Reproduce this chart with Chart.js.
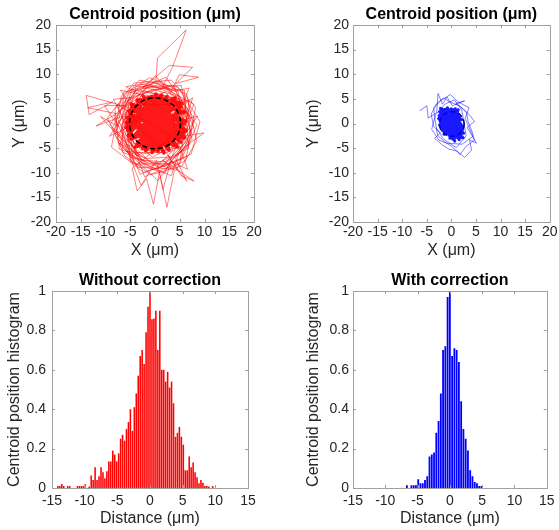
<!DOCTYPE html>
<html lang="en">
<head>
<meta charset="UTF-8">
<title>Centroid position</title>
<script src="https://cdn.jsdelivr.net/npm/chart.js"></script>
<style>
    body { margin: 0; background: #ffffff; }
    .board { position: relative; width: 559px; height: 530px; overflow: hidden; }
    .board canvas { position: absolute; }
</style>
</head>
<body>
<div class="board">
    <canvas id="xyRaw" width="280" height="260" style="left:0;top:0"></canvas>
    <canvas id="xyCorr" width="279" height="260" style="left:280px;top:0"></canvas>
    <canvas id="histRaw" width="280" height="270" style="left:0;top:260px"></canvas>
    <canvas id="histCorr" width="279" height="270" style="left:280px;top:260px"></canvas>
</div>
<script>
// ---- data ----
const xyTicks = [-20, -15, -10, -5, 0, 5, 10, 15, 20];
const distTicks = [-15, -10, -5, 0, 5, 10, 15];
const histTicks = [0, 0.2, 0.4, 0.6, 0.8, 1];

// dense core of the uncorrected trajectory (um)
const rawCore = [[-5.0,1.8],[5.7,-0.9],[-3.7,-4.3],[3.5,4.9],[-0.6,-5.9],[1.4,5.8],[-5.5,-1.4],[6.0,2.3],[-2.9,4.7],[4.3,-4.4],[-5.8,0.2],[5.3,3.5],[-1.9,-5.5],[0.2,6.0],[2.8,-5.4],[-4.6,3.4],[6.2,0.5],[-4.9,-3.1],[2.3,3.8],[-1.1,-3.4],[3.8,1.3],[-3.5,-2.2],[4.8,-3.0],[-1.4,5.3],[1.0,-4.7],[-4.1,1.1],[5.5,-1.9],[-2.5,-5.0],[3.1,2.8],[-5.3,2.5],[4.7,4.3],[-0.4,-1.3],[1.8,-6.0],[-3.6,4.8],[5.9,-0.1],[-5.9,-0.8],[0.7,3.1],[3.5,-3.5],[-2.2,1.8],[4.1,5.2],[-3.1,-3.8],[1.2,0.5],[-4.8,4.0],[6.3,-1.4],[-0.2,-5.3],[2.4,5.5],[-4.3,-2.6],[5.0,1.0],[-1.7,3.5],[0.4,-2.9],[4.6,-4.8],[-5.6,1.2],[2.0,2.0],[-2.6,-0.7],[5.4,4.1],[-0.8,5.5],[2.9,-1.7],[-4.0,-4.8],[3.6,0.0],[-1.2,-4.3],[0.1,4.4],[-5.4,-2.4],[6.0,-2.9],[-2.4,5.6],[1.6,-2.4],[-4.7,0.0],[2.6,4.4],[0.6,-5.6],[-3.2,2.9],[5.2,-3.8],[-0.7,1.0]];

// wandering part of the uncorrected trajectory (um)
const rawPath = [[0.2,8.9],[0.5,13.3],[6.3,19.0],[3.6,11.6],[1.2,6.8],[-2.5,7.2],[2.9,11.8],[7.6,11.4],[4.2,8.1],[8.8,9.4],[4.9,9.9],[3.1,6.2],[-1.5,8.1],[-5.9,7.5],[-3.0,5.9],[-7.0,6.8],[-4.5,3.0],[-13.9,5.7],[-13.3,1.8],[-8.5,4.4],[-13.6,3.2],[-7.8,2.0],[-11.9,-0.5],[-6.5,1.5],[-9.2,-2.6],[-5.5,-0.8],[-8.4,4.9],[-4.8,5.3],[-6.9,-1.5],[-3.2,-6.4],[-7.5,-3.8],[-2.0,-8.5],[-5.8,-5.6],[-1.0,-6.2],[-4.6,-9.1],[-3.6,-13.7],[-1.7,-11.2],[-0.3,-16.4],[0.9,-9.8],[2.4,-17.0],[3.9,-9.6],[1.5,-7.4],[7.9,-11.7],[5.3,-10.6],[2.6,-6.5],[6.4,-11.7],[4.1,-7.0],[6.0,-4.8],[9.9,-1.9],[5.8,-2.6],[8.6,1.5],[6.3,0.9],[7.6,5.2],[5.6,3.8],[6.9,7.2],[4.0,6.6],[0.8,7.9],[-3.9,6.7],[-6.2,3.6],[-5.4,-3.1],[-2.7,-7.4],[1.9,-7.8],[5.2,-5.9],[7.1,-2.9],[6.7,2.8],[2.5,7.5],[-2.2,6.3],[-7.3,0.4],[-4.1,-5.6],[0.4,-8.7],[4.7,-4.4],[7.8,-0.8],[5.0,5.5],[-0.6,6.9],[-6.6,4.2],[-8.0,-2.4],[-3.4,-8.9],[2.9,-9.2],[6.2,-7.5],[8.2,3.3],[3.3,8.8],[-4.3,8.2],[-9.6,1.1],[-6.1,-6.6],[-0.8,-10.4],[5.5,-8.6],[8.4,-3.6],[6.4,6.0],[-1.1,9.3],[-6.8,5.6],[-8.8,-4.8],[-2.3,-9.9],[3.6,-8.1],[7.3,-6.2],[9.1,0.4],[4.6,7.4],[-3.2,8.8],[-8.1,2.9],[-7.2,-5.2],[-1.6,-7.1],[3.0,-6.8],[-5.1,2.1],[-4.3,-4.0],[0.9,-6.1],[5.4,-1.8],[4.8,4.2],[-0.3,6.0],[-5.7,0.3],[-2.9,-5.4],[3.4,-5.6],[6.1,1.7],[2.1,6.4],[-4.7,4.5],[-6.0,-2.3],[-0.5,-6.8],[5.3,-3.7],[5.7,3.1],[-1.9,5.8],[-6.3,1.9],[-3.7,-5.9],[2.6,-5.9],[6.6,-1.0],[3.9,5.2],[-3.4,5.0],[-5.8,-4.3],[0.0,-5.6],[5.9,0.0],[1.0,5.9],[-5.2,-1.4],[-1.4,-5.9],[4.4,-5.0],[6.3,4.4],[-2.6,6.8],[-6.9,-0.4],[-4.9,-6.9],[1.8,-8.3],[7.0,-4.3],[4.5,0.9],[-1.2,4.9],[-4.4,0.2],[0.7,-4.8],[4.2,-2.7],[3.2,3.9],[-10.2,3.6],[-7.4,-0.6],[-11.0,1.4],[-6.2,-3.9],[-2.8,-12.6],[0.3,-7.5],[1.6,-13.4],[3.2,-7.7],[6.6,-9.3],[4.4,-3.1],[-7.6,3.8],[-2.1,-10.8],[4.9,-8.0],[8.0,0.9],[2.2,9.4],[-5.3,6.1],[-8.6,-0.9],[-1.3,-8.9],[6.8,-5.0],[5.9,6.8],[-3.8,7.6],[-7.1,-4.4],[0.6,-11.6],[7.4,-1.9],[3.8,7.8],[-6.0,5.0],[-5.0,-7.8],[2.0,-10.1],[7.9,3.9],[-0.2,8.4],[-8.3,1.6],[-3.0,-10.3],[5.1,-7.2],[6.9,4.6],[-4.6,6.9],[-7.8,-1.5],[-0.9,-7.8],[4.3,-9.5],[8.5,-0.3],[1.4,8.6],[-6.4,6.3],[-6.6,-5.8],[1.1,-9.0],[6.1,-3.9],[4.7,6.5],[-2.8,8.0],[-9.1,-0.2],[-2.5,-8.0],[3.3,-10.6],[7.2,1.2],[0.1,9.7],[-5.5,4.4],[-4.4,-8.2],[2.7,-8.2],[7.5,-3.3],[5.3,7.7],[-1.8,7.4],[-7.7,-3.0],[-0.1,-9.4],[6.5,-6.6]];

// corrected trajectory (um)
const corrCore = [[-2.0,2.8],[1.8,-2.6],[-1.2,-1.5],[1.5,1.9],[-2.3,0.5],[2.2,-0.6],[0.0,3.0],[0.3,-3.2],[-1.6,2.2],[2.0,-1.8],[-2.1,-0.8],[1.0,2.4],[-0.5,-2.4],[2.4,-2.9],[-2.5,1.6],[1.3,0.2],[-0.8,3.2],[0.9,-2.8],[-1.9,-0.1],[2.1,0.8],[-1.0,1.0],[1.6,-3.3],[-2.4,2.4],[0.5,1.6],[-0.3,-3.0],[2.3,-1.2],[-1.5,-2.2],[0.8,3.0],[-2.6,1.0],[1.9,-2.2],[-0.2,0.6],[1.2,-1.0],[-1.3,2.9],[2.5,-2.0],[-1.8,-1.4],[0.4,2.6],[-0.9,-0.6],[1.7,1.2],[-2.2,3.1],[0.7,-3.6],[-1.1,1.8],[2.0,-0.2],[-0.4,-1.8],[1.4,2.8],[-2.4,-0.3],[1.1,-2.3],[-0.6,2.1],[0.2,-1.2]];
const corrPath = [[-6.4,2.6],[-5.0,3.6],[-4.7,1.1],[-3.0,2.2],[-2.7,6.1],[-1.8,3.9],[-0.9,5.4],[0.2,3.6],[2.7,4.6],[0.9,4.1],[2.4,3.0],[3.9,1.5],[4.7,0.4],[3.2,-0.8],[5.1,-4.0],[3.7,-3.3],[4.1,-5.4],[2.7,-6.9],[1.2,-5.6],[-0.5,-5.2],[-1.8,-4.4],[-3.4,-3.0],[-2.2,-1.9],[-3.6,-0.6],[-4.1,1.9],[-3.0,4.0],[-1.6,5.2],[-0.4,4.4],[1.6,3.6],[3.1,2.2],[3.4,0.4],[4.2,-1.6],[4.7,-3.4],[3.0,-4.6],[1.8,-6.3],[0.0,-4.6],[-1.3,-3.8],[-2.8,-2.4],[-3.3,0.7],[-3.6,3.2],[-2.2,4.6],[-0.2,5.9],[1.5,4.3],[3.6,3.2],[2.8,1.0],[4.4,-2.6],[2.2,-4.2],[-0.9,-4.0],[-2.5,-3.4],[-4.0,-1.2],[-3.2,1.8],[-1.2,4.0],[0.6,4.8],[2.1,2.8],[3.0,-2.5],[1.0,-4.9],[-1.6,-3.2],[-3.0,-1.0]];

// normalised histograms of the distance
const rawBinStart = -14.1, rawBinWidth = 0.3;
const rawHist = [0.01,0.01,0.02,0.01,0,0.01,0.01,0,0,0,0.01,0.01,0.01,0.01,0.02,0,0.007,0.064,0.04,0.105,0.04,0.06,0.105,0.08,0.05,0.085,0.135,0.135,0.19,0.17,0.135,0.176,0.25,0.27,0.24,0.30,0.335,0.40,0.29,0.41,0.48,0.57,0.67,0.70,0.63,0.79,0.92,1.0,0.856,0.86,0.90,0.70,0.90,0.60,0.60,0.54,0.59,0.51,0.54,0.43,0.26,0.28,0.31,0.26,0.22,0.09,0.09,0.16,0.105,0.13,0.08,0.055,0.024,0.04,0.027,0.01,0.01,0.007,0,0.01];
const corrBinStart = -6.65, corrBinWidth = 0.35;
const corrHist = [0.014,0,0.014,0.014,0.014,0.044,0.024,0.024,0.04,0.06,0.16,0.17,0.18,0.28,0.34,0.48,0.70,0.72,0.97,1.0,0.67,0.71,0.70,0.64,0.44,0.30,0.25,0.19,0.09,0.06,0.03,0.024,0.01,0.01];

// reference circles: centre and radius (um)
const rawCircle = { cx: 0.0, cy: 0.05, r: 5.15, under: false };
const corrCircle = { cx: 0.1, cy: -0.1, r: 2.5, under: true };

// ---- drawing ----
Chart.defaults.font.family = 'Arial, "Liberation Sans", Helvetica, sans-serif';
Chart.defaults.color = '#262626';
Chart.defaults.animation = false;

const toXY = pts => pts.map(([x, y]) => ({ x, y }));
const toBars = (start, w, hs) => hs.map((h, i) => ({ x: start + i * w, y: h }));

// matlab style box with inward ticks on all four sides
const boxFrame = {
    id: 'boxFrame',
    afterDraw(chart) {
        const { ctx, chartArea: a, scales: { x, y } } = chart;
        ctx.save();
        ctx.strokeStyle = '#a0a0a0';
        ctx.lineWidth = 1;
        ctx.beginPath();
        x.ticks.forEach(t => {
            const px = Math.round(x.getPixelForValue(t.value)) + 0.5;
            ctx.moveTo(px, a.top); ctx.lineTo(px, a.top + 3);
            ctx.moveTo(px, a.bottom); ctx.lineTo(px, a.bottom - 3);
        });
        y.ticks.forEach(t => {
            const py = Math.round(y.getPixelForValue(t.value)) + 0.5;
            ctx.moveTo(a.left, py); ctx.lineTo(a.left + 3, py);
            ctx.moveTo(a.right, py); ctx.lineTo(a.right - 3, py);
        });
        ctx.stroke();
        ctx.strokeRect(Math.round(a.left) + 0.5, Math.round(a.top) + 0.5,
                       Math.round(a.width), Math.round(a.height));
        ctx.restore();
    }
};

function drawCircle(chart, opts) {
    const { ctx, scales: { x, y } } = chart;
    const px = x.getPixelForValue(opts.cx);
    const py = y.getPixelForValue(opts.cy);
    const rr = x.getPixelForValue(opts.cx + opts.r) - px;
    ctx.save();
    ctx.setLineDash([5, 3]);
    ctx.lineWidth = 1.6;
    ctx.strokeStyle = '#000000';
    ctx.beginPath();
    ctx.arc(px, py, rr, 0, Math.PI * 2);
    ctx.stroke();
    ctx.restore();
}

const refCircle = {
    id: 'refCircle',
    beforeDatasetsDraw(chart, args, opts) {
        if (opts && opts.r && opts.under) drawCircle(chart, opts);
    },
    afterDatasetsDraw(chart, args, opts) {
        if (opts && opts.r && !opts.under) drawCircle(chart, opts);
    }
};

function axis(o) {
    return {
        type: 'linear',
        min: o.min,
        max: o.max,
        offset: false,
        afterBuildTicks: s => { s.ticks = o.ticks.map(v => ({ value: v })); },
        afterFit: s => {
            if (o.width) s.width = o.width;
            if (o.height) s.height = o.height;
        },
        grid: { display: false, drawTicks: false, offset: false },
        border: { display: false },
        ticks: {
            autoSkip: false, maxRotation: 0, padding: o.pad, color: '#262626', font: { size: 14 },
            callback: v => String(v)
        },
        title: { display: true, text: o.title, color: '#262626', font: { size: 16 }, padding: o.titlePad }
    };
}

function titleOpts(text, top, bottom) {
    return {
        display: true,
        fullSize: false,
        text: text,
        color: '#000000',
        font: { size: 16, weight: 'bold' },
        padding: { top: top, bottom: bottom }
    };
}

function xyChart(id, core, path, color, circle, frame) {
    const line = { showLine: true, pointRadius: 0, tension: 0, borderJoinStyle: 'round', borderCapStyle: 'round' };
    return new Chart(document.getElementById(id), {
        type: 'scatter',
        data: {
            datasets: [
                { ...line, data: toXY(path), borderColor: color(0.5), borderWidth: 1 },
                { ...line, data: toXY(core), borderColor: color(0.9), borderWidth: frame.coreWidth }
            ]
        },
        options: {
            responsive: false,
            events: [],
            layout: { padding: { left: 0, top: 0, bottom: 0, right: frame.right } },
            scales: {
                x: axis({ min: -20, max: 20, ticks: xyTicks, height: 38, pad: 1.5,
                          title: 'X (μm)', titlePad: { top: 0, bottom: 0 } }),
                y: axis({ min: -20, max: 20, ticks: xyTicks, width: frame.yWidth, pad: frame.yPad,
                          title: 'Y (μm)', titlePad: { top: frame.yTitle, bottom: 0 } })
            },
            plugins: {
                legend: { display: false },
                tooltip: { enabled: false },
                title: titleOpts('Centroid position (μm)', 5.4, 0.4),
                refCircle: circle
            }
        },
        plugins: [boxFrame, refCircle]
    });
}

function histChart(id, bars, color, text, frame) {
    return new Chart(document.getElementById(id), {
        type: 'bar',
        data: {
            datasets: [{
                data: bars,
                backgroundColor: color,
                borderWidth: 0,
                barPercentage: 0.8,
                categoryPercentage: 1.0
            }]
        },
        options: {
            responsive: false,
            events: [],
            layout: { padding: { left: 0, top: 0, bottom: 0, right: frame.right } },
            scales: {
                x: axis({ min: -15, max: 15, ticks: distTicks, height: 42, pad: 4.5,
                          title: 'Distance (μm)', titlePad: { top: 0, bottom: 2.1 } }),
                y: axis({ min: 0, max: 1, ticks: histTicks, width: frame.yWidth, pad: frame.yPad,
                          title: 'Centroid position histogram', titlePad: { top: frame.yTitle, bottom: 0 } })
            },
            plugins: {
                legend: { display: false },
                tooltip: { enabled: false },
                title: titleOpts(text, 11.4, 0.4)
            }
        },
        plugins: [boxFrame]
    });
}

xyChart('xyRaw', rawCore, rawPath, a => `rgba(255,0,0,${a})`, rawCircle,
        { right: 26, yWidth: 56, yPad: 5, yTitle: 10.4, coreWidth: 3.5 });
xyChart('xyCorr', corrCore, corrPath, a => `rgba(0,0,255,${a})`, corrCircle,
        { right: 9, yWidth: 73, yPad: 4, yTitle: 23.7, coreWidth: 3 });
histChart('histRaw', toBars(rawBinStart, rawBinWidth, rawHist), '#ff0000', 'Without correction',
          { right: 32, yWidth: 52, yPad: 6, yTitle: 5.4 });
histChart('histCorr', toBars(corrBinStart, corrBinWidth, corrHist), '#0000ff', 'With correction',
          { right: 10, yWidth: 73, yPad: 4, yTitle: 23.7 });
</script>
</body>
</html>
